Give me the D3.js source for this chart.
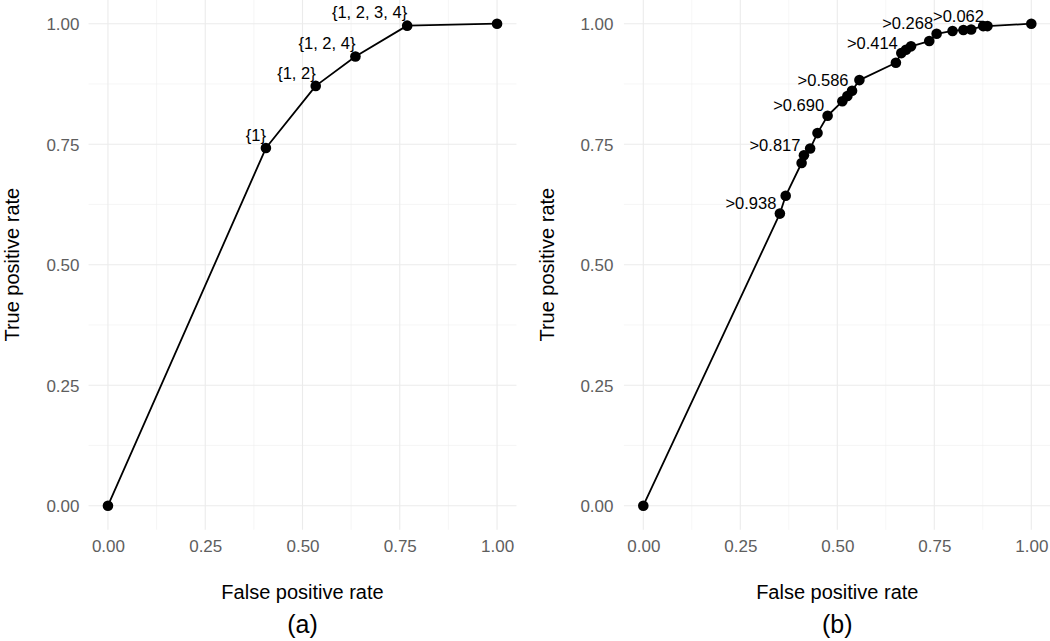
<!DOCTYPE html>
<html>
<head>
<meta charset="utf-8">
<script src="https://cdn.jsdelivr.net/npm/d3@7"></script>
<style>
  html, body { margin: 0; padding: 0; background: #ffffff; }
  svg { display: block; font-family: "Liberation Sans", Arial, sans-serif; }
</style>
</head>
<body>
<svg id="chart" width="1050" height="641"></svg>
<script>
// ---------- data ----------
const majorTicks = [0, 0.25, 0.5, 0.75, 1];
const tickLabels = ["0.00", "0.25", "0.50", "0.75", "1.00"];
const minorTicks = [0.125, 0.375, 0.625, 0.875];

const fprA = [0, 0.406, 0.534, 0.636, 0.769, 1.0];
const tprA = [0, 0.742, 0.871, 0.932, 0.996, 1.0];
const labelsA = ["", "{1}", "{1, 2}", "{1, 2, 4}", "{1, 2, 3, 4}", ""];

const fprB = [0, 0.352, 0.367, 0.408, 0.414, 0.430, 0.449, 0.475, 0.513, 0.526, 0.538, 0.557,
              0.651, 0.665, 0.677, 0.690, 0.737, 0.756, 0.797, 0.825, 0.845, 0.876, 0.887, 1.0];
const tprB = [0, 0.606, 0.643, 0.711, 0.727, 0.741, 0.773, 0.809, 0.839, 0.850, 0.861, 0.883,
              0.919, 0.939, 0.946, 0.953, 0.964, 0.979, 0.985, 0.987, 0.988, 0.995, 0.995, 1.0];
const labelsB = ["", ">0.938", "", "", ">0.817", "", "", ">0.690", "", "", ">0.586", "",
                 "", ">0.414", "", "", "", ">0.268", "", "", "", "", ">0.062", ""];

const captions = ["(a)", "(b)"];
const xTitle = "False positive rate";
const yTitle = "True positive rate";

// ---------- drawing ----------
const svg = d3.select("#chart");

const panels = [
  { fpr: fprA, tpr: tprA, labels: labelsA, caption: captions[0],
    xr: [88.5, 516.5], yTitleX: 19, tickRight: 79.5, lab: { dx: 0, dy: -13.3 } },
  { fpr: fprB, tpr: tprB, labels: labelsB, caption: captions[1],
    xr: [623.9, 1050.7], yTitleX: 554, tickRight: 613.5, lab: { dx: -3.5, dy: -10.5 } }
];

const yScale = d3.scaleLinear().domain([-0.05, 1.05]).range([529.8, -0.4]);

panels.forEach(p => {
  const x = d3.scaleLinear().domain([-0.05, 1.05]).range(p.xr);
  const g = svg.append("g");

  // minor grid
  g.append("g").selectAll("line").data(minorTicks).join("line")
    .attr("x1", d => x(d)).attr("x2", d => x(d))
    .attr("y1", yScale.range()[0]).attr("y2", yScale.range()[1])
    .attr("stroke", "#f0f0f0").attr("stroke-width", 0.6);
  g.append("g").selectAll("line").data(minorTicks).join("line")
    .attr("y1", d => yScale(d)).attr("y2", d => yScale(d))
    .attr("x1", p.xr[0]).attr("x2", p.xr[1])
    .attr("stroke", "#f0f0f0").attr("stroke-width", 0.6);
  // major grid
  g.append("g").selectAll("line").data(majorTicks).join("line")
    .attr("x1", d => x(d)).attr("x2", d => x(d))
    .attr("y1", yScale.range()[0]).attr("y2", yScale.range()[1])
    .attr("stroke", "#ebebeb").attr("stroke-width", 1.1);
  g.append("g").selectAll("line").data(majorTicks).join("line")
    .attr("y1", d => yScale(d)).attr("y2", d => yScale(d))
    .attr("x1", p.xr[0]).attr("x2", p.xr[1])
    .attr("stroke", "#ebebeb").attr("stroke-width", 1.1);

  // x axis (labels only)
  const xAxis = d3.axisBottom(x).tickValues(majorTicks)
    .tickFormat((d, i) => tickLabels[i]).tickSize(0).tickPadding(0);
  const gx = g.append("g").attr("transform", "translate(0,551.8)").call(xAxis);
  gx.select(".domain").remove();
  gx.selectAll("text").attr("dy", null).attr("y", 0)
    .attr("font-size", 17).attr("fill", "#5e5e5e")
    .attr("font-family", "Liberation Sans, Arial, sans-serif");

  // y axis (labels only)
  const yAxis = d3.axisLeft(yScale).tickValues(majorTicks)
    .tickFormat((d, i) => tickLabels[i]).tickSize(0).tickPadding(0);
  const gy = g.append("g").attr("transform", `translate(${p.tickRight},0)`).call(yAxis);
  gy.select(".domain").remove();
  gy.selectAll("text").attr("dy", "0.36em").attr("x", 0)
    .attr("font-size", 17).attr("fill", "#5e5e5e")
    .attr("font-family", "Liberation Sans, Arial, sans-serif");

  // line
  const pts = p.fpr.map((v, i) => [v, p.tpr[i], p.labels[i]]);
  g.append("path").datum(pts)
    .attr("fill", "none").attr("stroke", "#000").attr("stroke-width", 1.8)
    .attr("stroke-linejoin", "round")
    .attr("d", d3.line().x(d => x(d[0])).y(d => yScale(d[1])));

  // points
  g.append("g").selectAll("circle").data(pts).join("circle")
    .attr("cx", d => x(d[0])).attr("cy", d => yScale(d[1]))
    .attr("r", 5.3).attr("fill", "#000");

  // point labels
  g.append("g").selectAll("text").data(pts.filter(d => d[2] !== "")).join("text")
    .attr("x", d => x(d[0]) + p.lab.dx)
    .attr("y", d => yScale(d[1]) + p.lab.dy)
    .attr("dy", "0.36em")
    .attr("text-anchor", "end")
    .attr("font-size", 16.5).attr("fill", "#000")
    .text(d => d[2]);

  // axis titles
  g.append("text").attr("x", x(0.5)).attr("y", 598.5)
    .attr("text-anchor", "middle").attr("font-size", 20).attr("fill", "#000")
    .text(xTitle);
  g.append("text")
    .attr("transform", `translate(${p.yTitleX},${yScale(0.5)}) rotate(-90)`)
    .attr("text-anchor", "middle").attr("font-size", 20).attr("fill", "#000")
    .text(yTitle);

  // caption
  g.append("text").attr("x", x(0.5)).attr("y", 633)
    .attr("text-anchor", "middle").attr("font-size", 25).attr("fill", "#000")
    .text(p.caption);
});
</script>
</body>
</html>
